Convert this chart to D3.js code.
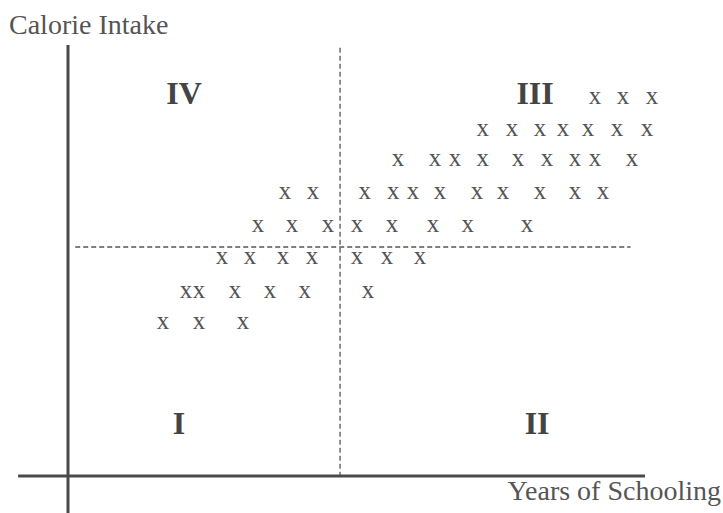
<!DOCTYPE html>
<html>
<head>
<meta charset="utf-8">
<script src="https://cdn.jsdelivr.net/npm/d3@7"></script>
<style>
  html, body { margin: 0; padding: 0; background: #fff; }
  svg { display: block; }
</style>
</head>
<body>
<svg id="chart" width="723" height="513"></svg>
<script>
// Each row of marks: a calorie-intake level and the schooling values observed at it
const rowLevels = [13.16, 12.04, 11.0, 9.85, 8.70, 7.59, 6.40, 5.33];
const rowSchooling = [
  [18.27, 19.24, 20.24],
  [14.38, 15.39, 16.36, 17.16, 18.02, 19.03, 20.07],
  [11.44, 12.72, 13.41, 14.38, 15.60, 16.60, 17.57, 18.27, 19.55],
  [7.52, 8.49, 10.29, 11.27, 11.96, 12.89, 14.18, 15.08, 16.36, 17.57, 18.54],
  [6.59, 7.76, 9.01, 10.02, 11.23, 12.65, 13.86, 15.91],
  [5.34, 6.31, 7.45, 8.46, 10.02, 11.06, 12.20],
  [4.09, 4.54, 5.79, 7.00, 8.21, 10.40],
  [3.29, 4.54, 6.07]
];
// Averages that split the plane into quadrants
const meanSchooling = 9.43;
const meanCalories = 7.97;
const quadrantLabels = ["I", "II", "III", "IV"];
const quadrantPos = [[3.85, 1.84], [16.26, 1.84], [16.19, 13.30], [4.02, 13.30]];
const xTitle = "Years of Schooling";
const yTitle = "Calorie Intake";

const points = [];
rowLevels.forEach((lvl, i) => rowSchooling[i].forEach(s => points.push({ s, c: lvl })));

const svg = d3.select("#chart");
const x = d3.scaleLinear().domain([0, 20]).range([68, 645]);
const y = d3.scaleLinear().domain([0, 15]).range([476, 45]);

const ink = "#4a4a4a";
const serif = "'Liberation Serif', 'DejaVu Serif', serif";

// Quadrant dividers
svg.append("line")
  .attr("x1", x(meanSchooling)).attr("x2", x(meanSchooling))
  .attr("y1", y(14.9)).attr("y2", y(0))
  .attr("stroke", "#555").attr("stroke-width", 1.3)
  .attr("stroke-dasharray", "5,3");
svg.append("line")
  .attr("x1", x(0.25)).attr("x2", x(19.5))
  .attr("y1", y(meanCalories)).attr("y2", y(meanCalories))
  .attr("stroke", "#555").attr("stroke-width", 1.3)
  .attr("stroke-dasharray", "5,3");

// Axes
svg.append("line")
  .attr("x1", x(0)).attr("x2", x(0))
  .attr("y1", y(15)).attr("y2", 513)
  .attr("stroke", ink).attr("stroke-width", 3);
svg.append("line")
  .attr("x1", x(-1.73)).attr("x2", x(20))
  .attr("y1", y(0)).attr("y2", y(0))
  .attr("stroke", ink).attr("stroke-width", 3);

// Observations drawn as "x" marks, centred on their value
svg.append("g").selectAll("text")
  .data(points)
  .join("text")
  .attr("x", d => x(d.s))
  .attr("y", d => y(d.c))
  .attr("dy", "0.23em")
  .attr("text-anchor", "middle")
  .attr("font-family", serif)
  .attr("font-size", 25)
  .attr("fill", "#555")
  .text("x");

// Quadrant numerals
svg.append("g").selectAll("text")
  .data(quadrantLabels)
  .join("text")
  .attr("x", (d, i) => x(quadrantPos[i][0]))
  .attr("y", (d, i) => y(quadrantPos[i][1]))
  .attr("dy", "0.33em")
  .attr("text-anchor", "middle")
  .attr("font-family", serif)
  .attr("font-weight", "bold")
  .attr("font-size", 32)
  .attr("fill", "#444")
  .text(d => d);

// Axis titles
svg.append("text")
  .attr("x", 9).attr("y", 34)
  .attr("font-family", serif).attr("font-size", 28)
  .attr("fill", "#555")
  .text(yTitle);
svg.append("text")
  .attr("x", 721).attr("y", 500)
  .attr("text-anchor", "end")
  .attr("font-family", serif).attr("font-size", 28)
  .attr("fill", "#555")
  .text(xTitle);
</script>
</body>
</html>
